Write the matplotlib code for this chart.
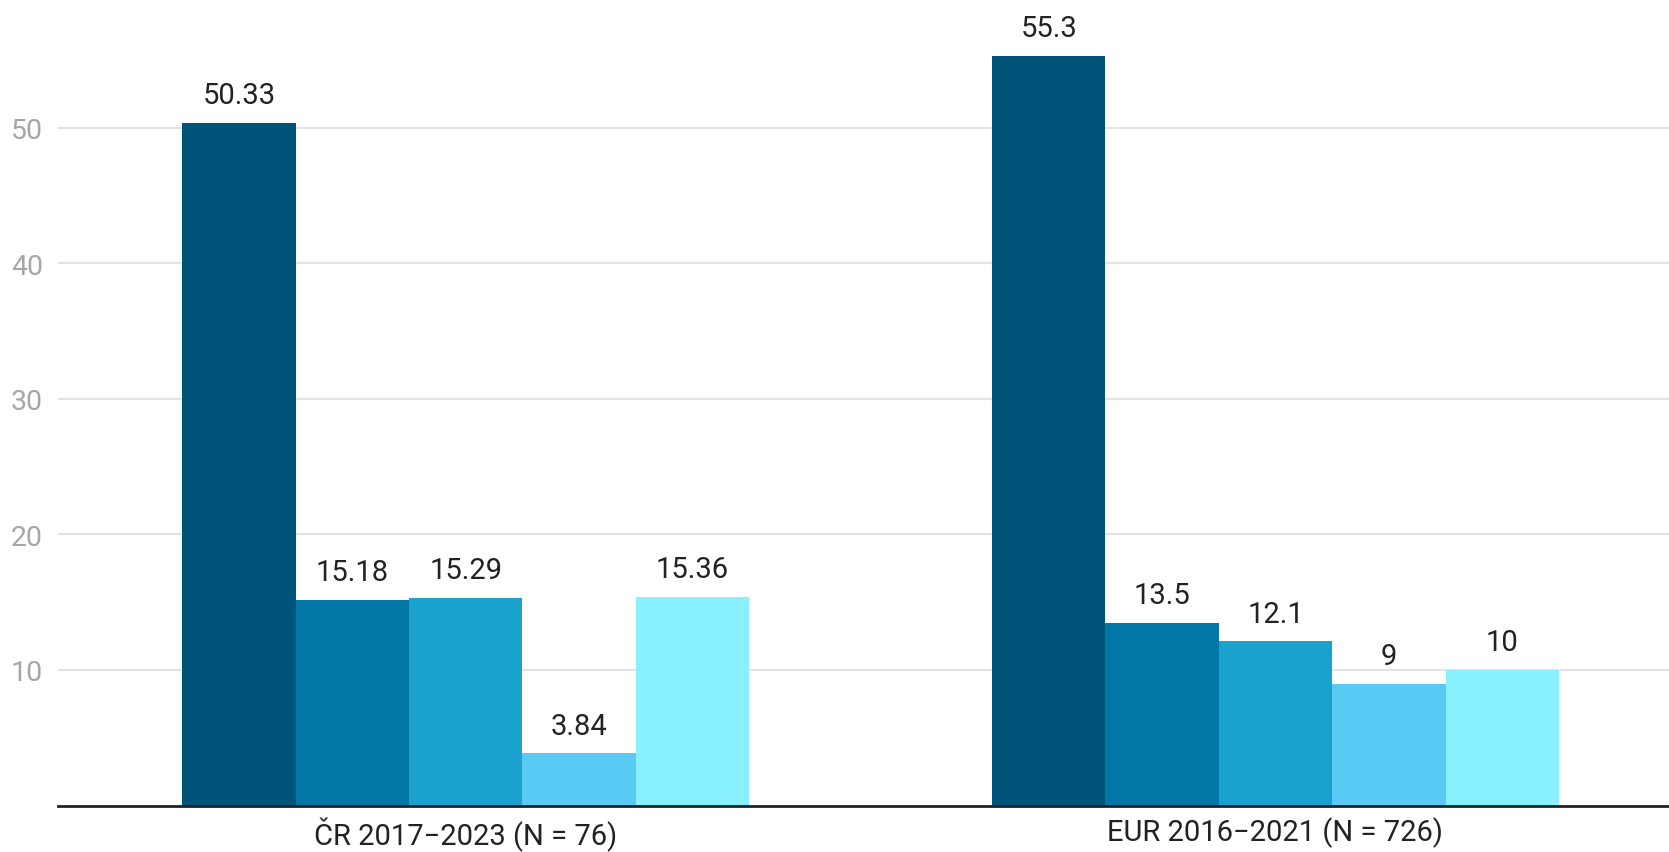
import matplotlib
matplotlib.use("Agg")
import matplotlib.pyplot as plt
import numpy as np

plt.rcParams['font.family'] = ['Roboto', 'DejaVu Sans']

categories = ["ČR 2017−2023 (N = 76)", "EUR 2016−2021 (N = 726)"]
series_values = [
    [50.33, 55.3],
    [15.18, 13.5],
    [15.29, 12.1],
    [3.84, 9],
    [15.36, 10],
]
value_labels = [
    ["50.33", "55.3"],
    ["15.18", "13.5"],
    ["15.29", "12.1"],
    ["3.84", "9"],
    ["15.36", "10"],
]
colors = ["#005479", "#0077a4", "#1ba1cd", "#58caf4", "#88f1fd"]
yticks = [10, 20, 30, 40, 50]

fig = plt.figure(figsize=(16.69, 8.53), dpi=100)
ax = fig.add_axes([0.035, 0.0545, 0.965, 0.9455])

x = np.arange(len(categories))
n = len(series_values)
bw = 0.14
for i, vals in enumerate(series_values):
    pos = x + (i - (n - 1) / 2) * bw
    bars = ax.bar(pos, vals, width=bw, color=colors[i], zorder=2)
    for b, lab in zip(bars, value_labels[i]):
        ax.annotate(lab, (b.get_x() + b.get_width() / 2, b.get_height()),
                    xytext=(0, 10), textcoords="offset points",
                    ha="center", va="bottom", fontsize=21, color="#222222")

ax.set_xlim(-0.503, 1.486)
ax.set_ylim(0, 59.5)
ax.set_yticks(yticks)
ax.set_yticklabels([str(t) for t in yticks])
ax.set_xticks(x)
ax.set_xticklabels(categories)
ax.tick_params(axis='y', length=0, labelsize=20.5, labelcolor="#a6a6a6", pad=11)
ax.tick_params(axis='x', length=0, labelsize=21, labelcolor="#222222", pad=8)
ax.grid(axis='y', color="#e3e3e3", linewidth=1.5, zorder=0)
ax.set_axisbelow(True)
for s in ["top", "right", "left"]:
    ax.spines[s].set_visible(False)
ax.spines["bottom"].set_color("#222222")
ax.spines["bottom"].set_linewidth(2)
ax.spines["bottom"].set_zorder(3)

fig.savefig("out.png", dpi=100, facecolor="white")
